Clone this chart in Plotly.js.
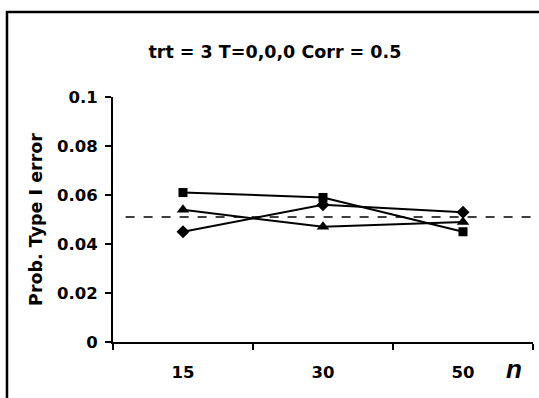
<!DOCTYPE html>
<html><head><meta charset="utf-8">
<script src="https://cdn.plot.ly/plotly-3.0.1.min.js"></script>
<style>html,body{margin:0;padding:0;background:#fff;}#chart{width:539px;height:398px;}</style>
</head><body><div id="chart"></div>
<script>
const categories = ["15", "30", "50"];
const seriesSquare = [0.061, 0.059, 0.045];
const seriesDiamond = [0.045, 0.056, 0.053];
const seriesTriangle = [0.054, 0.047, 0.049];
const nominalLevel = 0.051;
const yTicks = [0, 0.02, 0.04, 0.06, 0.08, 0.1];
const yTickLabels = ["0", "0.02", "0.04", "0.06", "0.08", "0.1"];

const F = "DejaVu Sans, Arial, sans-serif";
function series(y, sym, size) {
  return {x: categories, y: y, type: "scatter", mode: "lines+markers",
    line: {color: "#000", width: 2}, marker: {symbol: sym, size: size, color: "#000"},
    cliponaxis: false, showlegend: false};
}
const data = [
  series(seriesSquare, "square", 9),
  series(seriesDiamond, "diamond", 10),
  series(seriesTriangle, "triangle-up", 11)
];
const layout = {
  width: 539, height: 398,
  margin: {l: 113, r: 6, t: 97, b: 56},
  paper_bgcolor: "#fff", plot_bgcolor: "#fff",
  font: {family: F, color: "#000"},
  title: {text: "<b>trt = 3 T=0,0,0 Corr = 0.5</b>", font: {size: 17.5, family: F, color: "#000"},
    x: 0.51, xref: "container", xanchor: "center", y: 0.87, yanchor: "middle"},
  xaxis: {type: "category", range: [-0.5, 2.5], tickson: "boundaries", ticks: "outside",
    ticklen: 6, tickwidth: 2, tickcolor: "#000", showline: true, linecolor: "#000", linewidth: 2,
    showgrid: false, zeroline: false, tickfont: {size: 16.5, family: F, color: "#000", weight: "bold"},
    ticklabelstandoff: 14},
  yaxis: {range: [0, 0.1], tickvals: yTicks, ticktext: yTickLabels, ticks: "outside",
    ticklen: 6, tickwidth: 2, tickcolor: "#000", showline: true, linecolor: "#000", linewidth: 2,
    showgrid: false, zeroline: false, tickfont: {size: 16.5, family: F, color: "#000", weight: "bold"},
    ticklabelstandoff: 4,
    title: {text: "<b>Prob. Type I error</b>", font: {size: 17.5, family: F, color: "#000"}, standoff: 10}},
  shapes: [
    {type: "line", xref: "paper", yref: "y", x0: 0.03, x1: 0.995, y0: nominalLevel, y1: nominalLevel,
      line: {color: "#000", width: 1.5, dash: "dash"}},
    {type: "rect", xref: "paper", yref: "paper", x0: -0.2524, x1: 1.05, y0: -0.3, y1: 1.347,
      line: {color: "#000", width: 2.5}, fillcolor: "rgba(0,0,0,0)", layer: "above"}
  ],
  annotations: [
    {text: "n", xref: "paper", yref: "paper", x: 0.955, y: -0.11, showarrow: false,
      font: {size: 26, family: "Liberation Sans, Arial, sans-serif", color: "#000", weight: "bold", style: "italic"},
      xanchor: "center", yanchor: "middle"}
  ]
};
Plotly.newPlot("chart", data, layout, {displayModeBar: false, staticPlot: true});
</script></body></html>
